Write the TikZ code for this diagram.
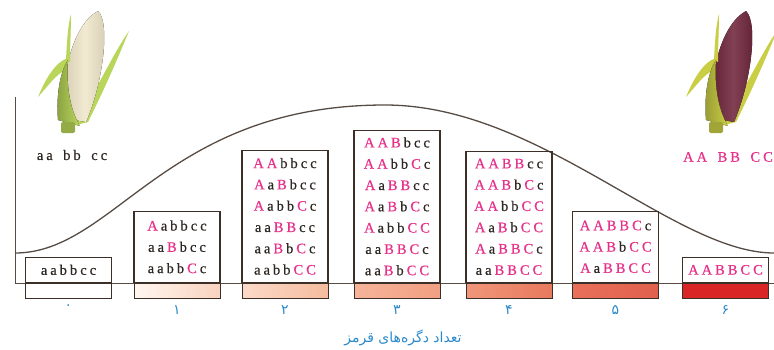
\documentclass[tikz,border=0pt]{standalone}
\usepackage{fontspec}
\setmainfont{Liberation Serif}[FakeBold=0.6]
\newfontfamily\arabicfont[Script=Arabic]{DejaVu Sans}
\TeXXeTstate=1
\usepackage{tikz}
\usetikzlibrary{positioning}

\definecolor{allele}{HTML}{E5338B}
\definecolor{ink}{HTML}{2E2825}
\definecolor{boxline}{HTML}{3B2F27}
\definecolor{axisline}{HTML}{574C44}
\definecolor{numblue}{HTML}{2C8ACB}
\definecolor{husk}{HTML}{B9D65A}
\definecolor{redhusk}{HTML}{C9CE45}
\definecolor{whitecob}{HTML}{EFE6C8}
\definecolor{redcob}{HTML}{6B1F35}
\definecolor{oneL}{HTML}{FFF6F0}
\definecolor{oneR}{HTML}{F9D3BF}
\definecolor{twoL}{HTML}{FBD9C8}
\definecolor{twoR}{HTML}{F5BC9E}
\definecolor{threeL}{HTML}{F6B49A}
\definecolor{threeR}{HTML}{F29F82}
\definecolor{fourL}{HTML}{F0967A}
\definecolor{fourR}{HTML}{E8795E}
\definecolor{fiveL}{HTML}{E9705A}
\definecolor{fiveR}{HTML}{E0604C}
\definecolor{six}{HTML}{D92525}

% genotype: capitals in pink, letters spaced out
\newcommand{\genoletter}[1]{\ifnum\lccode`#1=`#1\relax #1\else\textcolor{allele}{#1}\fi\kern3pt}
\def\genoloop#1{\ifx#1\relax\else\genoletter{#1}\expandafter\genoloop\fi}
\newcommand{\geno}[1]{\genoloop#1\relax\kern-3pt}
\newcommand{\gap}{\hspace{10.5pt}}
% one ear of corn, #1 shift, #2 cob, #3 husk
\newcommand{\maize}[3]{%
\begin{scope}[shift={#1}]
\fill[#3] (72,126) .. controls (95,95) and (112,55) .. (129,31) .. controls (118,58) and (104,90) .. (88,122) -- cycle;
\fill[left color=#2!88!black, right color=#2!88!black, middle color=#2!85!white] (64,118) .. controls (60,80) and (72,25) .. (98,11) .. controls (110,22) and (104,80) .. (86,122) -- cycle;
\fill[#3] (66,60) .. controls (67,40) and (68,25) .. (71,14) .. controls (71,30) and (70,45) .. (70,62) -- cycle;
\fill[#3] (68,58) .. controls (55,62) and (45,80) .. (38,97) .. controls (48,86) and (56,74) .. (66,70) -- cycle;
\fill[left color=#3!75!black, right color=#3] (58,120) .. controls (56,95) and (60,72) .. (68,60) .. controls (66,85) and (70,110) .. (80,126) -- cycle;
\fill[#3!80!black, rounded corners=2pt] (61,122) rectangle (75,133);
\end{scope}}

\tikzset{
  geno/.style={draw=boxline, line width=1.3pt, anchor=south, minimum width=86,
    align=center, inner sep=0pt, text=ink, font=\fontsize{14.5}{21.3}\selectfont},
  bar/.style={draw=boxline, line width=1pt, anchor=north, minimum width=86,
    minimum height=15, inner sep=0pt},
  digit/.style={text=numblue, inner sep=1pt, below=5pt of #1,
    font=\arabicfont\fontsize{14}{14}\selectfont},
  parent/.style={text=ink, font=\fontsize{14.5}{16}\selectfont}
}

\begin{document}
\begin{tikzpicture}[x=1pt,y=-1pt]
\useasboundingbox (0,0) rectangle (774,349);

% corn
\maize{(0,0)}{whitecob}{husk}
\maize{(648,0)}{redcob}{redhusk}
\node[parent] (white) at (72,155) {\geno{aa}\gap\geno{bb}\gap\geno{cc}};
\node[parent] (red) at (728,157) {\geno{AA}\gap\geno{BB}\gap\geno{CC}};

% axes and curve
\coordinate (top) at (15,97);
\coordinate (origin) at (15,283);
\coordinate (end) at (774,283);
\draw[axisline, line width=1pt] (top) -- (origin) -- (end);
\draw[axisline, line width=1.3pt] (15,253) .. controls (115,253) and (165,105) .. (385,105)
  .. controls (540,105) and (674,253) .. (774,253);

% genotype boxes
\node[geno, minimum height=25] (g0) at (68.5,283) {\geno{aabbcc}};
\node[geno, minimum height=71] (g1) at (177,283) {\geno{Aabbcc}\\\geno{aaBbcc}\\\geno{aabbCc}};
\node[geno, minimum height=132] (g2) at (285,283) {\geno{AAbbcc}\\\geno{AaBbcc}\\\geno{AabbCc}\\\geno{aaBBcc}\\\geno{aaBbCc}\\\geno{aabbCC}};
\node[geno, minimum height=152] (g3) at (397,283) {\geno{AABbcc}\\\geno{AAbbCc}\\\geno{AaBBcc}\\\geno{AaBbCc}\\\geno{AabbCC}\\\geno{aaBBCc}\\\geno{aaBbCC}};
\node[geno, minimum height=131] (g4) at (509,283) {\geno{AABBcc}\\\geno{AABbCc}\\\geno{AAbbCC}\\\geno{AaBbCC}\\\geno{AaBBCc}\\\geno{aaBBCC}};
\node[geno, minimum height=71] (g5) at (615.5,283) {\geno{AABBCc}\\\geno{AABbCC}\\\geno{AaBBCC}};
\node[geno, minimum height=25] (g6) at (725.5,283) {\geno{AABBCC}};

% colour bars
\node[bar, fill=white] (b0) at (g0.south) {};
\node[bar, left color=oneL, right color=oneR] (b1) at (g1.south) {};
\node[bar, left color=twoL, right color=twoR] (b2) at (g2.south) {};
\node[bar, left color=threeL, right color=threeR] (b3) at (g3.south) {};
\node[bar, left color=fourL, right color=fourR] (b4) at (g4.south) {};
\node[bar, left color=fiveL, right color=fiveR] (b5) at (g5.south) {};
\node[bar, fill=six] (b6) at (g6.south) {};

% numbers of red alleles
\node[digit=b0] (n0) {۰};
\node[digit=b1] (n1) {۱};
\node[digit=b2] (n2) {۲};
\node[digit=b3] (n3) {۳};
\node[digit=b4] (n4) {۴};
\node[digit=b5] (n5) {۵};
\node[digit=b6] (n6) {۶};
\node[text=numblue, font=\arabicfont\fontsize{14}{16}\selectfont] (title) at (403,338)
  {\beginR تعداد دگره‌های قرمز\endR};
\end{tikzpicture}
\end{document}
